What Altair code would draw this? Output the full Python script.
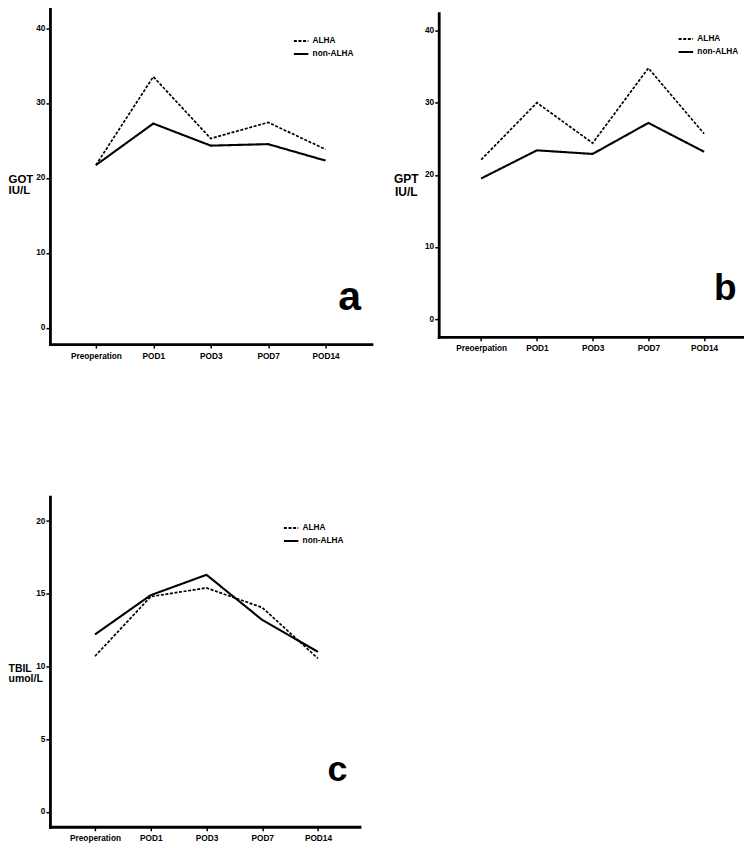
import altair as alt
import pandas as pd

# ---------------- data ----------------
cats_a = ["Preoperation", "POD1", "POD3", "POD7", "POD14"]
cats_b = ["Preoerpation", "POD1", "POD3", "POD7", "POD14"]
cats_c = ["Preoperation", "POD1", "POD3", "POD7", "POD14"]
groups = ["ALHA", "non-ALHA"]

got_alha = [21.7, 33.5, 25.25, 27.4, 23.8]
got_non = [21.7, 27.25, 24.3, 24.5, 22.3]

gpt_alha = [22.1, 30.0, 24.4, 34.8, 25.7]
gpt_non = [19.5, 23.4, 22.9, 27.2, 23.2]

tbil_alha = [10.7, 14.8, 15.4, 14.05, 10.55]
tbil_non = [12.2, 14.9, 16.3, 13.2, 11.0]

FONT = "Liberation Sans"


def frame(cats, alha, non):
    return pd.DataFrame({
        "cat": cats + cats,
        "val": alha + non,
        "group": [groups[0]] * len(cats) + [groups[1]] * len(cats),
    })


def panel(cats, alha, non, width, height, ydomain, yrange, yvalues,
          xpad, xalign, title, title_x, title_y, title_align, title_size,
          title_lh, leg_x, leg_y, letter, letter_x, letter_y, letter_size):
    df = frame(cats, alha, non)
    yscale = dict(domain=ydomain, nice=False, zero=False)
    if yrange is not None:
        yscale["range"] = yrange
    lines = alt.Chart(df).mark_line(color="black").encode(
        x=alt.X("cat:N", sort=cats,
                scale=alt.Scale(type="point", padding=xpad, align=xalign),
                axis=alt.Axis(title=None, labelAngle=0, tickSize=4,
                              labelPadding=3)),
        y=alt.Y("val:Q", scale=alt.Scale(**yscale),
                axis=alt.Axis(values=yvalues, title=title, titleAngle=0,
                              titleX=title_x, titleY=title_y,
                              titleAlign=title_align,
                              titleBaseline="alphabetic",
                              titleFontSize=title_size,
                              titleLineHeight=title_lh,
                              tickSize=4, labelPadding=1)),
        strokeDash=alt.StrokeDash(
            "group:N",
            scale=alt.Scale(domain=groups, range=[[3, 1.6], [1, 0]]),
            legend=alt.Legend(orient="none", legendX=leg_x, legendY=leg_y,
                              title=None, symbolType="stroke",
                              symbolSize=210, symbolStrokeWidth=1.9,
                              symbolStrokeColor="black",
                              labelFont=FONT, labelFontSize=8.3,
                              labelFontWeight="bold", labelColor="black",
                              labelOffset=3, rowPadding=-5, padding=0)),
        strokeWidth=alt.StrokeWidth(
            "group:N", scale=alt.Scale(domain=groups, range=[1.7, 2.1]),
            legend=None),
    )
    let = alt.Chart(pd.DataFrame({"t": [letter]})).mark_text(
        font=FONT, fontWeight="bold", fontSize=letter_size, color="black",
        align="center", baseline="alphabetic",
    ).encode(text="t:N", x=alt.value(letter_x), y=alt.value(letter_y))
    return alt.layer(lines, let).properties(width=width, height=height)


pa = panel(cats_a, got_alha, got_non, 322, 336, [-2.2, 42.6], None,
           [0, 10, 20, 30, 40], 0.8, 0.5, ["GOT", "IU/L"], -42, 174.5,
           "left", 11.5, 10.5, 243, 24, "a", 300, 302, 41)

pb = panel(cats_b, gpt_alha, gpt_non, 305, 328.7, [-2.45, 42.4],
           [328.7, 4.7], [0, 10, 20, 30, 40], 0.732, 0.52,
           ["GPT", "IU/L"], -33, 173.7, "center", 12, 14, 239, 22, "b",
           287, 292, 37)

pc = panel(cats_c, tbil_alha, tbil_non, 310, 330.6, [-1.03, 21.68], None,
           [0, 5, 10, 15, 20], 0.777, 0.52, ["TBIL", "umol/L"], -42, 175,
           "left", 10.5, 10, 233, 23, "c", 288, 285, 36)

chart = alt.concat(
    pa, pb, pc, columns=2, spacing={"row": 152.7, "column": 67.3},
    bounds="flush",
).resolve_legend(strokeDash="independent").properties(
    padding=0, background="white"
).configure_view(stroke=None).configure_axis(
    grid=False, domainColor="black", domainWidth=2.8, domainCap="square",
    tickColor="black", tickWidth=1.5, labelFont=FONT, labelFontSize=8.3,
    labelFontWeight="bold", labelColor="black", titleFont=FONT,
    titleFontWeight="bold", titleColor="black",
)

chart.save("out.html", embed_options={"renderer": "svg", "actions": False})
